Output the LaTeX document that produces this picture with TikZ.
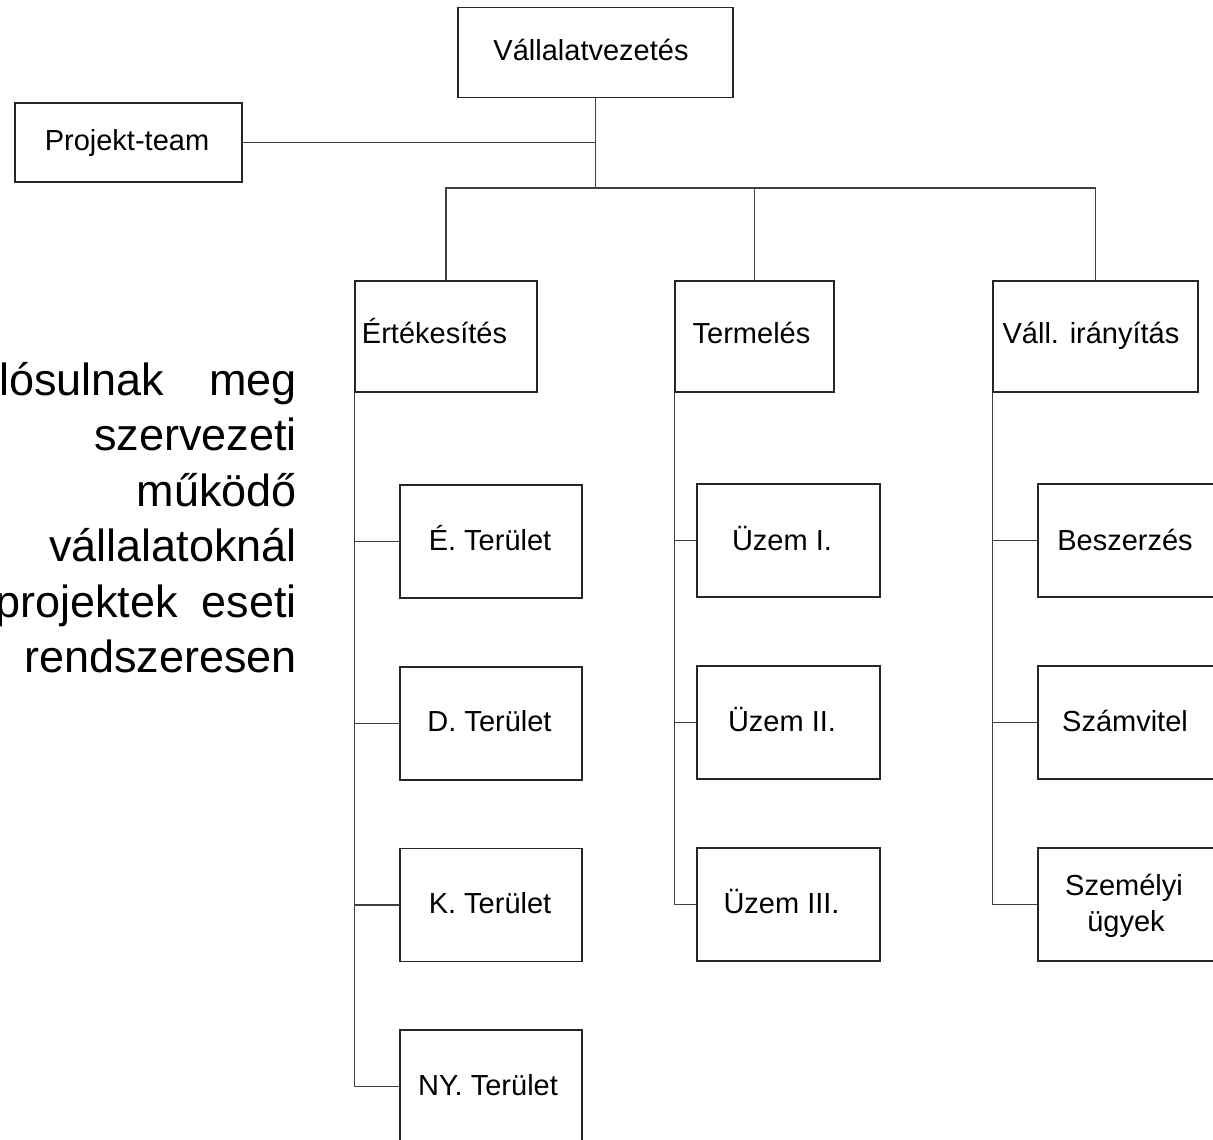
\documentclass[tikz,border=0pt]{standalone}
\usepackage{fontspec}
\setmainfont{Liberation Sans}
\begin{document}
\begin{tikzpicture}[x=1pt,y=-1pt,
  box/.style={draw=black!85, line width=1.2pt, inner sep=0pt, fill=white},
  lbl/.style={inner sep=0pt, anchor=base, font=\fontsize{29}{33}\selectfont},
  big/.style={inner sep=0pt, font=\fontsize{45}{50}\selectfont},
  conn/.style={draw=black!75, line width=1.1pt}]
\useasboundingbox (0,0) rectangle (1213,1140);
\clip (0,0) rectangle (1213,1140);
\fill[white] (0,0) rectangle (1213,1140);

% left running text
\node[big, anchor=base west] (l1a) at (-1,395) {lósulnak};
\node[big, anchor=base east] (l1b) at (297,395) {meg};
\node[big, anchor=base east] (l2) at (297,450) {szervezeti};
\node[big, anchor=base east] (l3) at (297,506) {működő};
\node[big, anchor=base east] (l4) at (297,561) {vállalatoknál};
\node[big, anchor=base east] (l5a) at (178,617) {projektek};
\node[big, anchor=base east] (l5b) at (297,617) {eseti};
\node[big, anchor=base east] (l6) at (297,672) {rendszeresen};

% top level
\node[box, minimum width=275pt, minimum height=90pt] (top) at (595.5,52.5) {};
\node[lbl] (ttop) at (591,60) {Vállalatvezetés};
\node[box, minimum width=227pt, minimum height=79pt] (proj) at (128.5,142.5) {};
\node[lbl] (tproj) at (127,150) {Projekt-team};

% second level
\node[box, minimum width=182pt, minimum height=111pt] (ert) at (446,336.5) {};
\node[lbl] (tert) at (434.5,343) {Értékesítés};
\node[box, minimum width=159pt, minimum height=111pt] (term) at (754.5,336.5) {};
\node[lbl] (tterm) at (751.5,343) {Termelés};
\node[box, minimum width=205pt, minimum height=111pt] (vall) at (1095.5,336.5) {};
\node[lbl] (tvall) at (1091,343) {Váll. irányítás};

% third level: Értékesítés
\node[box, minimum width=182pt, minimum height=113pt] (e1) at (491,541.5) {};
\node[lbl] at (490,550) {É. Terület};
\node[box, minimum width=182pt, minimum height=113pt] (e2) at (491,723.5) {};
\node[lbl] at (489.5,731) {D. Terület};
\node[box, minimum width=182pt, minimum height=113pt] (e3) at (491,905) {};
\node[lbl] at (490,913) {K. Terület};
\node[box, minimum width=182pt, minimum height=113pt] (e4) at (491,1086.5) {};
\node[lbl] at (488,1095) {NY. Terület};

% third level: Termelés
\node[box, minimum width=183pt, minimum height=113pt] (t1) at (788.5,540.5) {};
\node[lbl] at (782,550) {Üzem I.};
\node[box, minimum width=183pt, minimum height=113pt] (t2) at (788.5,722.5) {};
\node[lbl] at (782,731) {Üzem II.};
\node[box, minimum width=183pt, minimum height=113pt] (t3) at (788.5,904.5) {};
\node[lbl] at (781.5,913) {Üzem III.};

% third level: Váll. irányítás
\node[box, minimum width=183pt, minimum height=113pt] (v1) at (1129.5,540.5) {};
\node[lbl] at (1125,550) {Beszerzés};
\node[box, minimum width=183pt, minimum height=113pt] (v2) at (1129.5,722.5) {};
\node[lbl] at (1125,731) {Számvitel};
\node[box, minimum width=183pt, minimum height=113pt] (v3) at (1129.5,904.5) {};
\node[lbl] at (1124,895) {Személyi};
\node[lbl] at (1126,931) {ügyek};

% connectors
\coordinate (bus) at (595.5,188);
\draw[conn] (top.south) -- (bus);
\draw[conn] (proj.east) -- (proj.east -| top.south);
\draw[conn] (ert.north) |- (bus) -| (vall.north);
\draw[conn] (term.north) -- (term.north |- bus);

\draw[conn] (ert.south west) |- (e4.west);
\draw[conn] (ert.south west |- e1.west) -- (e1.west);
\draw[conn] (ert.south west |- e2.west) -- (e2.west);
\draw[conn] (ert.south west |- e3.west) -- (e3.west);

\draw[conn] (term.south west) |- (t3.west);
\draw[conn] (term.south west |- t1.west) -- (t1.west);
\draw[conn] (term.south west |- t2.west) -- (t2.west);

\draw[conn] (vall.south west) |- (v3.west);
\draw[conn] (vall.south west |- v1.west) -- (v1.west);
\draw[conn] (vall.south west |- v2.west) -- (v2.west);
\end{tikzpicture}
\end{document}
